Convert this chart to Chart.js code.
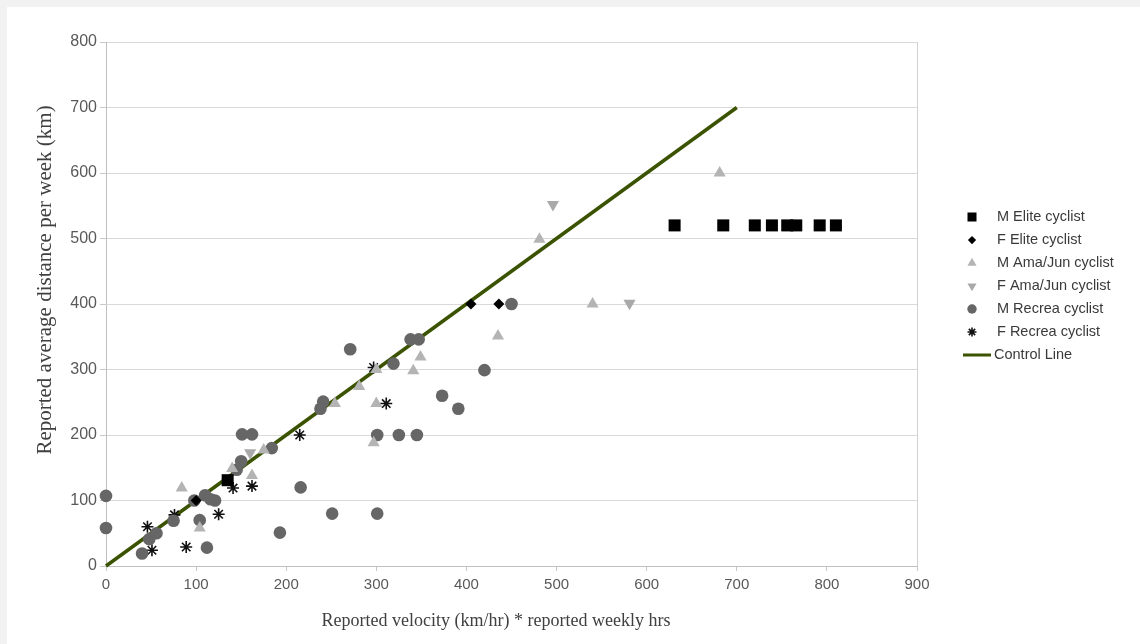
<!DOCTYPE html>
<html>
<head>
<meta charset="utf-8">
<script src="https://cdn.jsdelivr.net/npm/chart.js@4.4.1/dist/chart.umd.min.js"></script>
<style>
  html, body { margin: 0; padding: 0; background: #f2f2f2; }
  #wrap { position: absolute; left: 7px; top: 7px; width: 1133px; height: 637px; background: #fff; }
</style>
</head>
<body>
<div id="wrap"><canvas id="chart" width="1133" height="637"></canvas></div>
<script>
// values: [velocity*hours, km per week]
const mElite = [[135, 131], [631, 520], [685, 520], [720, 520], [739, 520], [756, 520], [766, 520], [792, 520], [810, 520]];
const fElite = [[100, 100], [405, 400], [436, 400]];
const mAmaJun = [[84, 119], [104, 58], [140, 149], [162, 138], [175, 177], [254, 248], [281, 274], [300, 248],
                 [297, 188], [300, 300], [341, 298], [349, 319], [435, 351], [481, 499], [540, 400], [681, 600]];
const fAmaJun = [[160, 173], [496, 552], [581, 401]];
const mRecrea = [[0, 107], [0, 58], [40, 19], [48, 41], [56, 50], [75, 69], [98, 100], [110, 108], [116, 102],
                 [121, 100], [104, 70], [112, 28], [145, 147], [150, 160], [151, 201], [162, 201], [184, 180],
                 [193, 51], [216, 120], [238, 240], [241, 251], [251, 80], [271, 331], [301, 80], [301, 200],
                 [325, 200], [345, 200], [319, 309], [338, 346], [347, 346], [373, 260], [391, 240], [420, 299], [450, 400]];
const fRecrea = [[46, 60], [51, 24], [76, 78], [89, 29], [125, 79], [141, 119], [162, 122], [215, 200], [311, 248], [297, 303]];
const controlLine = [[0, 0], [700, 700]];

const xTicks = [0, 100, 200, 300, 400, 500, 600, 700, 800, 900];
const yTicks = [0, 100, 200, 300, 400, 500, 600, 700, 800];
const xTitle = 'Reported velocity (km/hr) * reported weekly hrs';
const yTitle = 'Reported average distance per week (km)';

const toPts = arr => arr.map(p => ({ x: p[0], y: p[1] }));

// legend and axis titles drawn by hand, the original sits them off-centre
const sideLegend = {
    id: 'sideLegend',
    afterDraw(chart) {
        const ctx = chart.ctx;
        ctx.save();
        chart.data.datasets.forEach((ds, i) => {
            const y = 210 + i * 23;
            if (ds.showLine) {
                ctx.strokeStyle = ds.borderColor;
                ctx.lineWidth = 3;
                ctx.beginPath();
                ctx.moveTo(956, y);
                ctx.lineTo(984, y);
                ctx.stroke();
            } else {
                ctx.fillStyle = ds.backgroundColor;
                ctx.strokeStyle = ds.borderColor;
                ctx.lineWidth = ds.borderWidth;
                Chart.helpers.drawPoint(ctx, {
                    pointStyle: ds.pointStyle,
                    radius: ds.pointRadius * 0.75,
                    rotation: ds.rotation || 0,
                    borderWidth: ds.borderWidth
                }, 965, y);
            }
            ctx.fillStyle = '#3a3a3a';
            ctx.font = '14.5px "Liberation Sans", Arial, sans-serif';
            ctx.textBaseline = 'middle';
            ctx.textAlign = 'left';
            ctx.fillText(ds.label, ds.showLine ? 987 : 990, y);
        });

        ctx.fillStyle = '#404040';
        ctx.textAlign = 'center';
        ctx.textBaseline = 'middle';
        ctx.font = '18px "Liberation Serif", serif';
        ctx.fillText(xTitle, 489, 614);
        ctx.translate(38, 273);
        ctx.rotate(-Math.PI / 2);
        ctx.font = '21px "Liberation Serif", serif';
        ctx.fillText(yTitle, 0, 0);
        ctx.restore();
    }
};

new Chart(document.getElementById('chart'), {
    type: 'scatter',
    data: {
        datasets: [
            { label: 'M Elite cyclist', data: toPts(mElite), pointStyle: 'rect', pointRadius: 8.5,
              backgroundColor: '#000', borderColor: '#000', borderWidth: 0 },
            { label: 'F Elite cyclist', data: toPts(fElite), pointStyle: 'rectRot', pointRadius: 5.5,
              backgroundColor: '#000', borderColor: '#000', borderWidth: 0 },
            { label: 'M Ama/Jun cyclist', data: toPts(mAmaJun), pointStyle: 'triangle', pointRadius: 7,
              backgroundColor: '#b4b4b4', borderColor: '#b4b4b4', borderWidth: 0 },
            { label: 'F Ama/Jun cyclist', data: toPts(fAmaJun), pointStyle: 'triangle', rotation: 180, pointRadius: 7,
              backgroundColor: '#a9a9a9', borderColor: '#a9a9a9', borderWidth: 0 },
            { label: 'M Recrea cyclist', data: toPts(mRecrea), pointStyle: 'circle', pointRadius: 6.3,
              backgroundColor: '#666666', borderColor: '#666666', borderWidth: 0 },
            { label: 'F Recrea cyclist', data: toPts(fRecrea), pointStyle: 'star', pointRadius: 6,
              backgroundColor: '#111', borderColor: '#111', borderWidth: 1.6 },
            { label: 'Control Line', data: toPts(controlLine), showLine: true, pointRadius: 0,
              borderColor: '#3b5300', backgroundColor: '#3b5300', borderWidth: 3.5 }
        ].map(ds => Object.assign(ds, { clip: false }))
    },
    options: {
        responsive: false,
        animation: false,
        events: [],
        layout: { padding: { left: 0, top: 35, right: 223, bottom: 0 } },
        plugins: { legend: { display: false }, tooltip: { enabled: false } },
        scales: {
            x: {
                type: 'linear',
                min: 0,
                max: 900,
                afterBuildTicks: s => { s.ticks = xTicks.map(v => ({ value: v })); },
                afterFit: s => { s.height = 78; },
                border: { color: '#bfbfbf' },
                grid: {
                    color: c => (c.tick && c.tick.value === 900 ? '#d0d0d0' : 'rgba(0,0,0,0)'),
                    tickColor: '#c8c8c8',
                    tickLength: 5
                },
                ticks: { color: '#595959', padding: 5, font: { family: '"Liberation Sans Narrow", "Liberation Sans", sans-serif', size: 15 } }
            },
            y: {
                type: 'linear',
                min: 0,
                max: 800,
                afterBuildTicks: s => { s.ticks = yTicks.map(v => ({ value: v })); },
                afterFit: s => { s.width = 99; },
                border: { color: '#bfbfbf' },
                grid: { color: '#d9d9d9', tickColor: '#c8c8c8', tickLength: 6 },
                ticks: { color: '#595959', padding: 3, font: { family: '"Liberation Sans", Arial, sans-serif', size: 16 } }
            }
        }
    },
    plugins: [sideLegend]
});
</script>
</body>
</html>
